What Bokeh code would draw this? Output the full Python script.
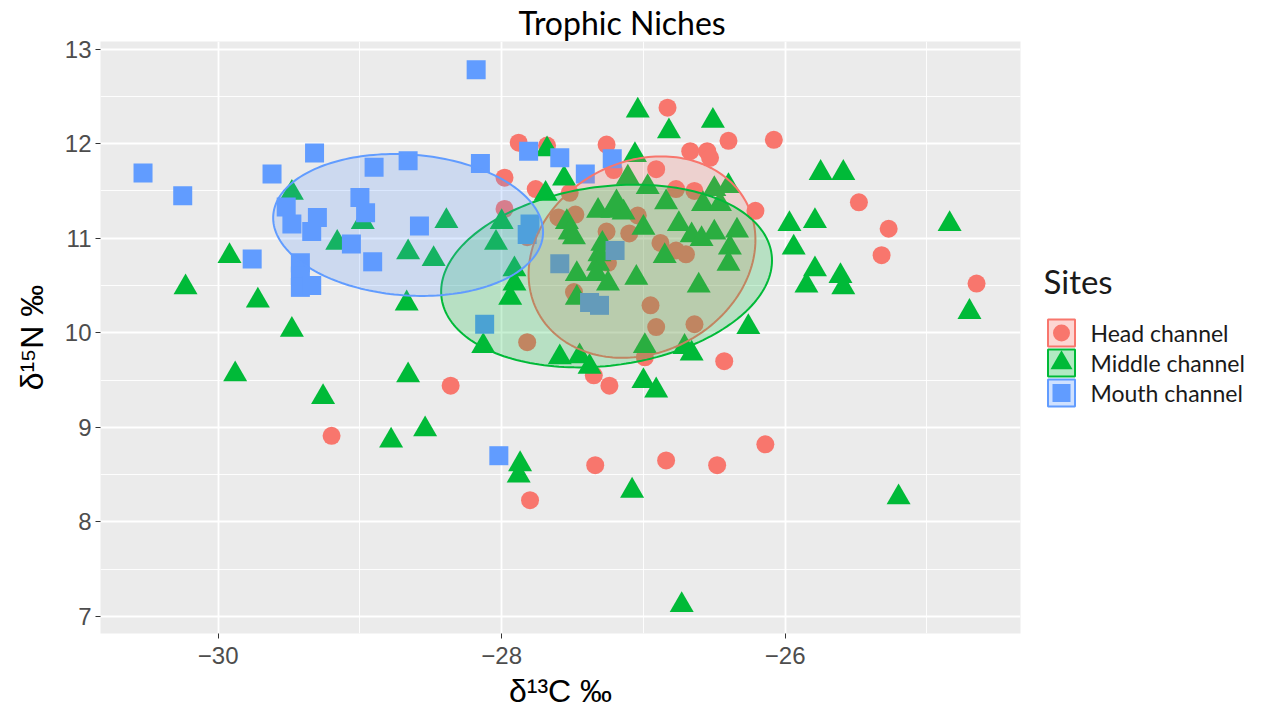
import numpy as np
from bokeh.plotting import figure
from bokeh.layouts import row
from bokeh.models import FixedTicker, Range1d
from bokeh.core.properties import value
from bokeh.embed import file_html
from bokeh.resources import INLINE

# ---------------- data ----------------
sites = ["Head channel", "Middle channel", "Mouth channel"]
site_colors = ["#F8766D", "#00BA38", "#619CFF"]
site_markers = ["circle", "triangle", "square"]

head_x = [-26.83, -27.88, -27.68, -27.26, -27.21, -27.98, -27.76, -27.52, -27.98, -27.60,
          -27.48, -27.82, -27.26, -27.10, -27.25, -27.49, -27.82, -27.35, -27.24, -26.67,
          -26.55, -26.53, -26.40, -26.08, -26.91, -26.77, -26.64, -26.21, -27.04, -26.88,
          -26.77, -26.70, -26.95, -26.91, -26.64, -26.43, -26.99, -25.48, -25.27, -25.32,
          -24.65, -29.20, -28.36, -27.80, -27.34, -26.84, -26.48, -26.14]
head_y = [12.38, 12.01, 11.98, 11.99, 11.72, 11.64, 11.52, 11.48, 11.31, 11.22,
          11.25, 11.01, 11.07, 11.05, 10.74, 10.43, 9.90, 9.55, 9.44, 11.92,
          11.92, 11.85, 12.03, 12.04, 11.73, 11.52, 11.50, 11.29, 11.24, 10.95,
          10.87, 10.83, 10.29, 10.06, 10.09, 9.70, 9.74, 11.38, 11.10, 10.82,
          10.52, 8.91, 9.44, 8.23, 8.60, 8.65, 8.60, 8.82]

middle_x = [-27.04, -26.82, -26.51, -27.68, -27.06, -27.56, -27.69, -27.11, -26.97, -26.84,
            -26.50, -26.40, -26.58, -26.46, -27.14, -27.00, -26.75, -26.66, -26.59, -26.50,
            -26.34, -26.39, -26.40, -26.85, -27.05, -26.61, -26.26, -26.99, -26.71, -26.66,
            -27.00, -26.91, -28.00, -28.04, -27.54, -27.52, -27.49, -27.32, -27.22, -27.19,
            -27.29, -27.31, -27.32, -27.47, -27.33, -27.25, -27.91, -27.91, -27.94, -27.47,
            -28.13, -27.59, -27.45, -27.38, -29.48, -28.98, -29.16, -28.66, -28.48, -28.39,
            -29.92, -30.23, -29.72, -29.48, -28.67, -29.88, -29.26, -28.78, -28.66, -28.54,
            -27.87, -27.88, -27.08, -26.73, -25.75, -25.59, -25.97, -25.79, -25.94, -25.79,
            -25.85, -25.61, -25.59, -24.84, -24.70, -25.20]
middle_y = [12.35, 12.13, 12.24, 11.94, 11.88, 11.63, 11.47, 11.64, 11.54, 11.38,
            11.52, 11.55, 11.36, 11.36, 11.27, 11.11, 11.15, 11.03, 10.99, 11.06,
            11.08, 10.90, 10.73, 10.81, 10.58, 10.50, 10.06, 9.86, 9.85, 9.78,
            9.49, 9.39, 11.17, 10.95, 11.17, 11.06, 11.01, 11.29, 11.29, 11.38,
            10.94, 10.83, 10.73, 10.62, 10.62, 10.52, 10.67, 10.52, 10.37, 10.37,
            9.86, 9.74, 9.75, 9.64, 11.48, 11.17, 10.95, 10.85, 10.78, 11.18,
            10.81, 10.48, 10.34, 10.03, 10.31, 9.56, 9.32, 8.86, 9.55, 8.98,
            8.61, 8.49, 8.33, 7.12, 11.69, 11.69, 11.15, 11.18, 10.90, 10.67,
            10.50, 10.60, 10.48, 11.15, 10.22, 8.26]

mouth_x = [-30.53, -30.25, -29.62, -29.32, -28.90, -28.66, -29.52, -29.48, -29.30, -29.34,
           -29.00, -28.96, -29.06, -28.91, -28.58, -29.76, -29.42, -29.42, -29.42, -29.34,
           -28.18, -28.15, -27.81, -27.59, -27.41, -27.22, -27.80, -27.82, -27.59, -27.20,
           -27.38, -27.31, -28.12, -28.02]
mouth_y = [11.69, 11.45, 11.68, 11.90, 11.75, 11.82, 11.33, 11.15, 11.22, 11.07,
           11.43, 11.27, 10.94, 10.75, 11.13, 10.78, 10.74, 10.60, 10.48, 10.50,
           12.78, 11.79, 11.92, 11.85, 11.68, 11.84, 11.15, 11.04, 10.73, 10.87,
           10.32, 10.29, 10.09, 8.70]

# niche ellipses (Head, Middle, Mouth): centre, half extents, tilt (correlation)
ellipse_cx = [-27.01, -27.26, -28.66]
ellipse_cy = [10.80, 10.60, 11.14]
ellipse_half_x = [0.80, 1.167, 0.952]
ellipse_half_y = [1.065, 0.966, 0.75]
ellipse_corr = [0.17, 0.17, -0.10]

x_ticks = [-30, -28, -26]
x_tick_labels = ["\u221230", "\u221228", "\u221226"]
x_minor = [-31, -29, -27, -25]
y_ticks = [7, 8, 9, 10, 11, 12, 13]
y_tick_labels = ["7", "8", "9", "10", "11", "12", "13"]
y_minor = [6.5, 7.5, 8.5, 9.5, 10.5, 11.5, 12.5, 13.5]

title_text = "Trophic Niches"
x_label = "\u03b4\u00b9\u00b3C \u2030"
y_label = "\u03b4\u00b9\u2075N \u2030"
legend_title = "Sites"

# ---------------- main plot ----------------
p = figure(width=1030, height=714,
           x_range=Range1d(-30.83, -24.34), y_range=Range1d(6.82, 13.08),
           output_backend="svg", toolbar_location=None,
           min_border_left=100, min_border_right=10,
           min_border_top=40, min_border_bottom=81)
p.background_fill_color = "#EBEBEB"
p.border_fill_color = "white"
p.outline_line_color = None

p.title.text = title_text
p.title.align = "left"
p.title.offset = 418
p.title.text_font = "Lato"
p.title.text_font_size = "32px"
p.title.text_font_style = "normal"
p.title.text_color = "black"
p.title.standoff = 0

p.xaxis.ticker = FixedTicker(ticks=x_ticks, minor_ticks=x_minor)
p.yaxis.ticker = FixedTicker(ticks=y_ticks, minor_ticks=y_minor)
p.xaxis.major_label_overrides = dict(zip(x_ticks, x_tick_labels))
p.yaxis.major_label_overrides = dict(zip(y_ticks, y_tick_labels))

for ax in (p.xaxis[0], p.yaxis[0]):
    ax.axis_line_color = None
    ax.major_tick_line_color = "#333333"
    ax.major_tick_line_width = 1
    ax.major_tick_out = 5
    ax.major_tick_in = 0
    ax.minor_tick_line_color = None
    ax.major_label_text_font = "Liberation Sans"
    ax.major_label_text_font_size = "24px"
    ax.major_label_text_color = "#4D4D4D"
    ax.axis_label_text_font = "Liberation Sans"
    ax.axis_label_text_font_size = "32px"
    ax.axis_label_text_font_style = "normal"
    ax.axis_label_text_color = "black"

p.xaxis.major_label_standoff = 8
p.yaxis.major_label_standoff = 4
p.xaxis.axis_label_standoff = 6
p.yaxis.axis_label_standoff = 12

p.xaxis.axis_label = x_label
p.yaxis.axis_label = y_label

for g in (p.xgrid[0], p.ygrid[0]):
    g.grid_line_color = "white"
    g.grid_line_width = 1.8
    g.minor_grid_line_color = "white"
    g.minor_grid_line_width = 0.9

xs_all = [head_x, middle_x, mouth_x]
ys_all = [head_y, middle_y, mouth_y]
sizes = {"circle": 18, "triangle": 24, "square": 19}
for xs, ys, col, mk in zip(xs_all, ys_all, site_colors, site_markers):
    p.scatter(xs, ys, marker=mk, size=sizes[mk], fill_color=col, line_color=None)

t = np.linspace(0, 2 * np.pi, 200)
for cx, cy, hx, hy, r, col in zip(ellipse_cx, ellipse_cy, ellipse_half_x,
                                  ellipse_half_y, ellipse_corr, site_colors):
    ex = cx + hx * np.cos(t)
    ey = cy + hy * (r * np.cos(t) + np.sqrt(1 - r * r) * np.sin(t))
    p.patch(ex, ey, fill_color=col, fill_alpha=0.22, line_color=col, line_width=2)

# ---------------- legend panel ----------------
# this panel's frame is aligned with the main frame (page rows 40..633)
lg = figure(width=238, height=714, x_range=Range1d(0, 238), y_range=Range1d(633, 40),
            output_backend="svg", toolbar_location=None, min_border=0,
            x_axis_type=None, y_axis_type=None)
lg.outline_line_color = None
lg.background_fill_color = "white"
lg.border_fill_color = "white"

lg.text([13], [280], text=[legend_title], text_font=value("Lato"),
        text_font_size="33px", text_baseline="middle", text_align="left",
        text_color="#1A1A1A")
key_y = [332, 362, 392]
key_sizes = {"circle": 17, "triangle": 22, "square": 18}
for ky, name, col, mk in zip(key_y, sites, site_colors, site_markers):
    lg.rect([31], [ky], width=27, height=27, fill_color=col, fill_alpha=0.3,
            line_color=col, line_width=2)
    lg.scatter([31], [ky], marker=mk, size=key_sizes[mk], fill_color=col, line_color=None)
    lg.text([60], [ky], text=[name], text_font=value("Lato"), text_font_size="23px",
            text_baseline="middle", text_align="left", text_color="#1A1A1A")

layout = row(p, lg)
open("out.html", "w").write(file_html(layout, INLINE, title="Trophic Niches"))
